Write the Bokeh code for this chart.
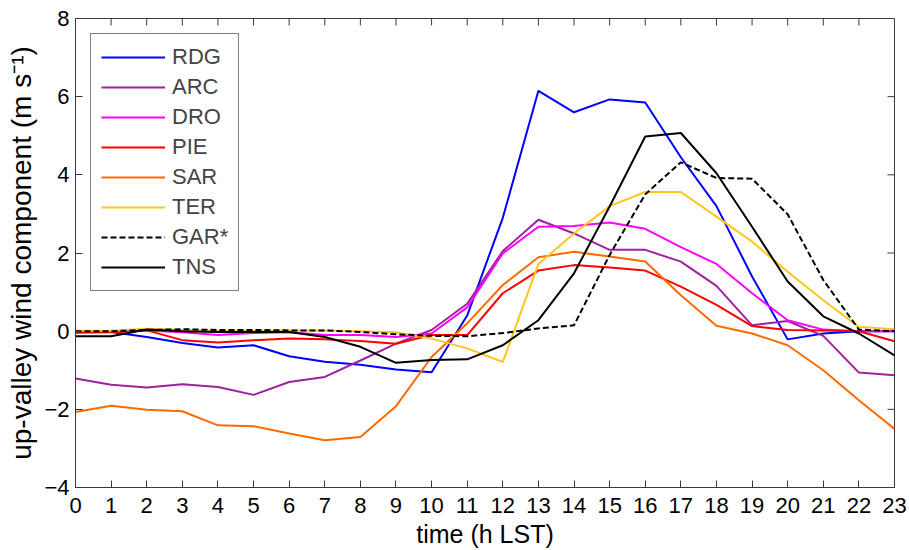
from bokeh.plotting import figure
from bokeh.models import FixedTicker, Range1d, Legend, LegendItem
from bokeh.embed import file_html
from bokeh.resources import INLINE

# Mean up-valley wind component by hour of day for each station
hours = list(range(24))

stations = ["RDG", "ARC", "DRO", "PIE", "SAR", "TER", "GAR*", "TNS"]

rdg = [-0.02, -0.02, -0.15, -0.30, -0.42, -0.36, -0.64, -0.78, -0.86, -0.98, -1.05, 0.40,
       2.90, 6.15, 5.60, 5.93, 5.85, 4.45, 3.20, 1.40, -0.21, -0.06, 0.00, 0.00]
arc = [-1.21, -1.37, -1.44, -1.36, -1.43, -1.63, -1.30, -1.17, -0.75, -0.32, 0.03, 0.70,
       2.05, 2.85, 2.50, 2.08, 2.08, 1.78, 1.16, 0.15, 0.26, -0.12, -1.06, -1.13]
dro = [0.00, -0.02, 0.02, -0.03, -0.10, -0.05, -0.03, -0.10, -0.10, -0.15, -0.06, 0.61,
       1.99, 2.67, 2.69, 2.78, 2.62, 2.15, 1.72, 0.97, 0.28, 0.04, 0.00, 0.00]
pie = [-0.04, -0.03, 0.02, -0.23, -0.29, -0.23, -0.19, -0.21, -0.25, -0.32, -0.10, -0.10,
       0.97, 1.55, 1.69, 1.63, 1.55, 1.14, 0.67, 0.13, 0.03, 0.02, 0.00, -0.26]
sar = [-2.07, -1.91, -2.01, -2.05, -2.41, -2.43, -2.62, -2.79, -2.71, -1.92, -0.66, 0.20,
       1.18, 1.89, 2.03, 1.91, 1.78, 0.92, 0.14, -0.06, -0.36, -1.00, -1.77, -2.50]
ter = [0.01, 0.01, 0.06, 0.03, 0.01, 0.01, 0.02, 0.02, 0.00, -0.03, -0.19, -0.44,
       -0.79, 1.72, 2.50, 3.20, 3.56, 3.56, 2.93, 2.29, 1.52, 0.79, 0.11, 0.05]
gar = [0.00, 0.00, 0.03, 0.05, 0.03, 0.03, 0.02, 0.02, -0.02, -0.08, -0.12, -0.13,
       -0.05, 0.07, 0.15, 1.95, 3.50, 4.32, 3.92, 3.90, 2.99, 1.31, 0.04, 0.00]
tns = [-0.13, -0.13, 0.04, 0.00, -0.02, -0.02, -0.02, -0.15, -0.40, -0.81, -0.74, -0.72,
       -0.36, 0.28, 1.48, 3.19, 4.98, 5.07, 4.04, 2.67, 1.27, 0.38, -0.06, -0.62]

x_ticks = list(range(0, 24))
y_ticks = [-4, -2, 0, 2, 4, 6, 8]
x_min, x_max = 0, 23
y_min, y_max = -4, 8

series = [rdg, arc, dro, pie, sar, ter, gar, tns]
colors = ["#0000FF", "#A020A0", "#FF00FF", "#FF0000", "#FF6A00", "#FFC61E", "#000000", "#000000"]
dashes = ["solid", "solid", "solid", "solid", "solid", "solid", "6 3", "solid"]

FONT = "Liberation Sans"
AXIS_COLOR = "#3a3a3a"
TICK_LEN = 7

p = figure(width=909, height=550, output_backend="svg", toolbar_location=None,
           x_range=Range1d(x_min, x_max), y_range=Range1d(y_min, y_max),
           min_border_left=75, min_border_right=15, min_border_top=18, min_border_bottom=63)
p.grid.visible = False
p.outline_line_color = AXIS_COLOR
p.outline_line_width = 1
p.background_fill_color = "white"
p.border_fill_color = "white"

xax = p.below[0]
yax = p.left[0]
xax.axis_label = "time (h LST)"
yax.axis_label = "up-valley wind component (m s\u207b\u00b9)"
xax.ticker = FixedTicker(ticks=x_ticks)
yax.ticker = FixedTicker(ticks=y_ticks)

for ax in (xax, yax):
    ax.major_tick_in = TICK_LEN
    ax.major_tick_out = 0
    ax.minor_tick_line_color = None
    ax.axis_line_color = AXIS_COLOR
    ax.major_tick_line_color = AXIS_COLOR
    ax.major_label_text_font = FONT
    ax.major_label_text_font_size = "22px"
    ax.major_label_text_color = "black"
    ax.axis_label_text_font = FONT
    ax.axis_label_text_font_style = "normal"
    ax.axis_label_text_color = "black"

xax.major_label_standoff = 10
xax.axis_label_text_font_size = "25px"
xax.axis_label_text_line_height = 0.9
xax.axis_label_standoff = 4
yax.major_label_standoff = 6
yax.axis_label_text_font_size = "28px"
yax.axis_label_standoff = 4

# Inward ticks on the top and right edges of the box
p.ray(x=x_ticks, y=[y_max] * len(x_ticks), length=TICK_LEN, length_units="screen",
      angle=-90, angle_units="deg", line_color=AXIS_COLOR, line_width=1)
p.ray(x=[x_max] * len(y_ticks), y=y_ticks, length=TICK_LEN, length_units="screen",
      angle=180, angle_units="deg", line_color=AXIS_COLOR, line_width=1)

items = []
for name, ys, c, d in zip(stations, series, colors, dashes):
    r = p.line(hours, ys, line_color=c, line_width=2, line_dash=d)
    items.append(LegendItem(label=name, renderers=[r]))

legend = Legend(items=items, location="top_left", margin=15, padding=10,
                glyph_width=64, glyph_height=18, label_height=18, spacing=4,
                label_standoff=7, label_text_font=FONT, label_text_font_size="22px",
                border_line_color="black", border_line_width=1,
                background_fill_color="white", background_fill_alpha=1.0)
p.add_layout(legend)

open("out.html", "w").write(file_html(p, INLINE))
